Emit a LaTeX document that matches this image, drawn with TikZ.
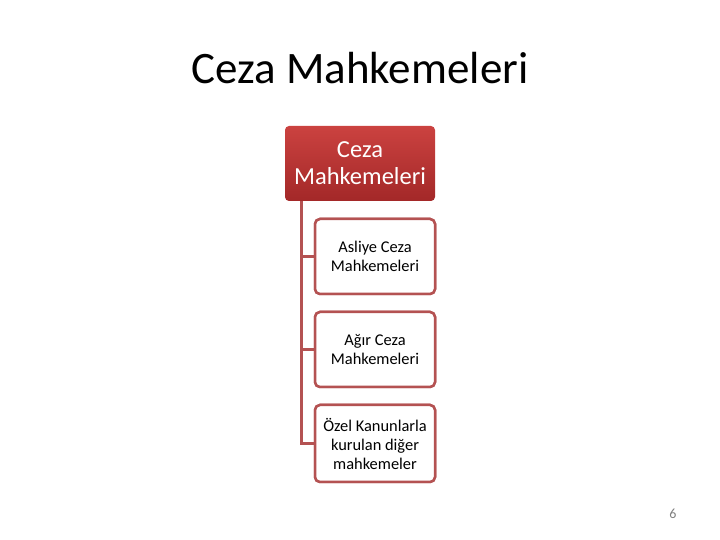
\documentclass[tikz,border=0pt]{standalone}
\usepackage{fontspec}
\setmainfont{Carlito}
\usetikzlibrary{calc,positioning}
\definecolor{hdtop}{RGB}{203,66,64}
\definecolor{hdbot}{RGB}{163,40,40}
\definecolor{linkred}{RGB}{180,82,82}
\tikzset{
  headbox/.style={rounded corners=4pt, top color=hdtop, bottom color=hdbot, draw=none,
    minimum width=150pt, minimum height=75pt, text=white, align=center, font=\fontsize{24.5}{27}\selectfont, inner sep=0pt},
  courtbox/.style={rounded corners=5pt, fill=white, draw=linkred, line width=2.5pt,
    minimum width=120pt, minimum height=75pt, align=center, font=\fontsize{16.4}{19}\selectfont, inner sep=0pt},
  link/.style={draw=linkred, line width=3pt}
}
\begin{document}
\begin{tikzpicture}[x=1pt,y=1pt]
\useasboundingbox (0,0) rectangle (720,540);
% title
\node (title) at (360,472) {\fontsize{45}{54}\selectfont Ceza Mahkemeleri};
% boxes
\node[headbox] (head) at (360,376.5) {Ceza\\Mahkemeleri};
\node[courtbox] (asliye) at (375,283.5) {Asliye Ceza\\Mahkemeleri};
\node[courtbox] (agir) at (375,190.5) {Ağır Ceza\\Mahkemeleri};
\node[courtbox, minimum height=77pt] (ozel) at (375,96.5) {Özel Kanunlarla\\kurulan diğer\\mahkemeler};
% connectors
\coordinate (spine) at ($(head.south west)+(17,0)$);
\draw[link] (spine) |- (asliye.west);
\draw[link] (spine) |- (agir.west);
\draw[link] (spine) |- (ozel.west);
% redraw boxes over the line ends
\node[courtbox] at (asliye) {Asliye Ceza\\Mahkemeleri};
\node[courtbox] at (agir) {Ağır Ceza\\Mahkemeleri};
\node[courtbox, minimum height=77pt] at (ozel) {Özel Kanunlarla\\kurulan diğer\\mahkemeler};
% page number
\node[text=gray, font=\fontsize{14}{16}\selectfont] (pagenum) at (673,26) {6};
\end{tikzpicture}
\end{document}
